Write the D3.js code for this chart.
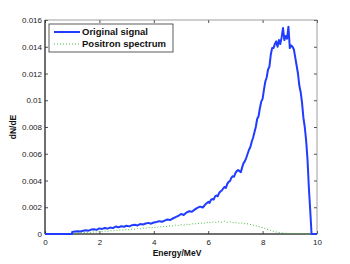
<!DOCTYPE html>
<html>
<head>
<meta charset="utf-8">
<script src="https://cdn.jsdelivr.net/npm/d3@7"></script>
<style>
html,body{margin:0;padding:0;background:#fff;}
svg{display:block;}
text{font-family:"Liberation Sans",Arial,Helvetica,sans-serif;}
</style>
</head>
<body>
<svg id="chart" width="350" height="264"></svg>
<script>
// ---- data ----
const energyOrig = [0,0.1,0.2,0.3,0.4,0.5,0.6,0.7,0.8,0.9,0.99,1.0,1.1,1.2,1.3,1.4,1.5,1.6,1.7,1.8,1.9,2.0,2.1,2.2,2.3,2.4,2.5,2.6,2.7,2.8,2.9,3.0,3.1,3.2,3.3,3.4,3.5,3.6,3.7,3.8,3.9,4.0,4.1,4.2,4.3,4.4,4.5,4.6,4.7,4.8,4.9,5.0,5.1,5.2,5.3,5.4,5.5,5.6,5.7,5.8,5.9,
  6.00,6.05,6.10,6.15,6.20,6.25,6.30,6.35,6.40,6.45,6.50,6.55,6.60,6.65,6.70,6.75,6.80,6.85,6.90,6.95,
  7.00,7.05,7.10,7.15,7.20,7.25,7.30,7.35,7.40,7.45,7.50,7.55,7.60,7.65,7.70,7.75,7.80,7.85,7.90,7.95,
  8.00,8.05,8.10,8.15,8.20,8.25,8.30,8.35,8.40,8.45,8.50,8.55,8.60,8.65,8.70,8.75,8.80,8.85,8.90,8.95,
  9.00,9.05,9.10,9.15,9.20,9.25,9.30,9.35,9.40,9.45,9.50,9.55,9.60,9.65,9.70,9.75,9.80,9.90,10.0];
const originalSignal = [0,0,0,0,0,0,0,0,0,0,0,0.00015,0.00018,0.00020,0.00019,0.00024,0.00028,0.00025,0.00033,0.00036,0.00031,0.00042,0.00038,0.00045,0.00040,0.00048,0.00044,0.00056,0.00050,0.00058,0.00054,0.00062,0.00057,0.00066,0.00069,0.00064,0.00074,0.00071,0.00078,0.00083,0.00077,0.00086,0.00090,0.00096,0.00092,0.00100,0.00108,0.00104,0.00116,0.00126,0.00135,0.00150,0.00142,0.00160,0.00170,0.00166,0.00182,0.00195,0.00205,0.00198,0.00222,
  0.00240,0.00232,0.00255,0.00262,0.00258,0.00280,0.00288,0.00282,0.00305,0.00318,0.00325,0.00340,0.00352,0.00345,0.00375,0.00390,0.00395,0.00420,0.00432,0.00428,
  0.00455,0.00470,0.00478,0.00470,0.00462,0.00500,0.00530,0.00545,0.00570,0.00600,0.00630,0.00650,0.00690,0.00720,0.00760,0.00800,0.00860,0.00880,0.00940,0.00990,
  0.01010,0.01080,0.01140,0.01170,0.01230,0.01250,0.01340,0.01390,0.01390,0.01420,0.01440,0.01400,0.01450,0.01420,0.01470,0.01540,0.01450,0.01480,0.01460,0.01550,
  0.01390,0.01410,0.01400,0.01380,0.01320,0.01260,0.01200,0.01110,0.01060,0.00980,0.00870,0.00800,0.00700,0.00560,0.00350,0.00180,0,0,0];
const energyPos = [0,0.1,0.2,0.3,0.4,0.5,0.6,0.7,0.8,0.9,1.0,1.1,1.2,1.3,1.4,1.5,1.6,1.7,1.8,1.9,2.0,2.1,2.2,2.3,2.4,2.5,2.6,2.7,2.8,2.9,3.0,3.1,3.2,3.3,3.4,3.5,3.6,3.7,3.8,3.9,4.0,4.1,4.2,4.3,4.4,4.5,4.6,4.7,4.8,4.9,5.0,5.1,5.2,5.3,5.4,5.5,5.6,5.7,5.8,5.9,6.0,6.1,6.2,6.3,6.4,6.5,6.6,6.7,6.8,6.9,7.0,7.1,7.2,7.3,7.4,7.5,7.6,7.7,7.8,7.9,8.0,8.1,8.2,8.3,8.4,8.5,8.6,8.7,8.8,8.9,9.0,9.1,9.2,9.3,9.4,9.5,9.6,9.7,9.8,9.9,10.0];
const positronSpectrum = [0,0,0,0,0,0,0,0,0,0,0.00004,0.00006,0.00008,0.00007,0.00011,0.00010,0.00014,0.00012,0.00016,0.00015,0.00019,0.00017,0.00022,0.00020,0.00025,0.00023,0.00028,0.00026,0.00031,0.00029,0.00034,0.00031,0.00037,0.00035,0.00041,0.00038,0.00044,0.00042,0.00048,0.00045,0.00051,0.00048,0.00055,0.00052,0.00058,0.00055,0.00062,0.00059,0.00066,0.00063,0.00069,0.00066,0.00073,0.00070,0.00077,0.00074,0.00081,0.00077,0.00085,0.00080,0.00088,0.00084,0.00091,0.00086,0.00093,0.00089,0.00095,0.00088,0.00092,0.00085,0.00088,0.00080,0.00084,0.00076,0.00079,0.00072,0.00070,0.00063,0.00060,0.00052,0.00048,0.00040,0.00033,0.00026,0.00020,0.00015,0.00011,0.00008,0.00006,0.00005,0.00004,0.00003,0.00003,0.00003,0.00003,0.00003,0.00003,0.00002,0.00001,0,0];
const xTicks = [0,2,4,6,8,10];
const xTickLabels = ["0","2","4","6","8","10"];
const yTicks = [0,0.002,0.004,0.006,0.008,0.01,0.012,0.014,0.016];
const yTickLabels = ["0","0.002","0.004","0.006","0.008","0.01","0.012","0.014","0.016"];
const seriesNames = ["Original signal","Positron spectrum"];

// ---- layout ----
const svg = d3.select("#chart");
const L = 45, R = 317, T = 20, B = 234;
const x = d3.scaleLinear().domain([0,10]).range([L,R]);
const y = d3.scaleLinear().domain([0,0.016]).range([B,T]);

const axisColor = "#222";
const tickLen = 3;

const gx = svg.append("g").attr("transform",`translate(0,${B})`)
  .call(d3.axisBottom(x).tickValues(xTicks).tickSizeInner(-tickLen).tickSizeOuter(0).tickPadding(5)
    .tickFormat((d,i)=>xTickLabels[i]));
const gy = svg.append("g").attr("transform",`translate(${L},0)`)
  .call(d3.axisLeft(y).tickValues(yTicks).tickSizeInner(-tickLen).tickSizeOuter(0).tickPadding(3)
    .tickFormat((d,i)=>yTickLabels[i]));
const gxt = svg.append("g").attr("transform",`translate(0,${T})`)
  .call(d3.axisTop(x).tickValues(xTicks).tickSizeInner(-tickLen).tickSizeOuter(0).tickFormat(""));
const gyr = svg.append("g").attr("transform",`translate(${R},0)`)
  .call(d3.axisRight(y).tickValues(yTicks).tickSizeInner(-tickLen).tickSizeOuter(0).tickFormat(""));

[gx,gy,gxt,gyr].forEach(g=>{
  g.select(".domain").remove();
  g.selectAll(".tick line").attr("stroke",axisColor).attr("stroke-width",0.8);
  g.selectAll(".tick text").attr("fill","#222").style("font-size","8px")
   .style("font-family","'Liberation Sans',Arial,sans-serif");
});

svg.append("rect").attr("x",L).attr("y",T).attr("width",R-L).attr("height",B-T)
  .attr("fill","none").attr("stroke","#888").attr("stroke-width",0.8);
svg.append("line").attr("x1",L).attr("x2",L).attr("y1",T).attr("y2",B).attr("stroke","#111").attr("stroke-width",1);
svg.append("line").attr("x1",L).attr("x2",R).attr("y1",B).attr("y2",B).attr("stroke","#111").attr("stroke-width",1);

const lineGen = d3.line().x(d=>x(d[0])).y(d=>y(d[1]));
const origPts = energyOrig.map((e,i)=>[e,originalSignal[i]]);
const posPts = energyPos.map((e,i)=>[e,positronSpectrum[i]]);

svg.append("path").datum(posPts).attr("d",lineGen)
  .attr("fill","none").attr("stroke","#44bb44").attr("stroke-width",1)
  .attr("stroke-dasharray","1,2");
svg.append("path").datum(origPts).attr("d",lineGen)
  .attr("fill","none").attr("stroke","#1f3cff").attr("stroke-width",2)
  .attr("stroke-linejoin","round");

const lg = svg.append("g");
lg.append("rect").attr("x",49).attr("y",24).attr("width",124).attr("height",28)
  .attr("fill","#fff").attr("stroke","#333").attr("stroke-width",0.8);
lg.append("line").attr("x1",54).attr("x2",80).attr("y1",32).attr("y2",32)
  .attr("stroke","#1f3cff").attr("stroke-width",2);
lg.append("line").attr("x1",54).attr("x2",80).attr("y1",44).attr("y2",44)
  .attr("stroke","#44bb44").attr("stroke-width",1).attr("stroke-dasharray","1,2");
lg.selectAll("text.leg").data(seriesNames).enter().append("text")
  .attr("x",82).attr("y",(d,i)=>32+i*12).attr("dy","0.35em")
  .style("font-size","9.5px").style("font-weight","bold").attr("fill","#111")
  .text(d=>d);

svg.append("text").attr("x",177).attr("y",255.5).attr("text-anchor","middle")
  .style("font-size","8.5px").style("font-weight","bold").attr("fill","#111").text("Energy/MeV");
svg.append("text").attr("transform","translate(15.5,127) rotate(-90)").attr("text-anchor","middle")
  .style("font-size","8.5px").style("font-weight","bold").attr("fill","#111").text("dN/dE");
</script>
</body>
</html>
